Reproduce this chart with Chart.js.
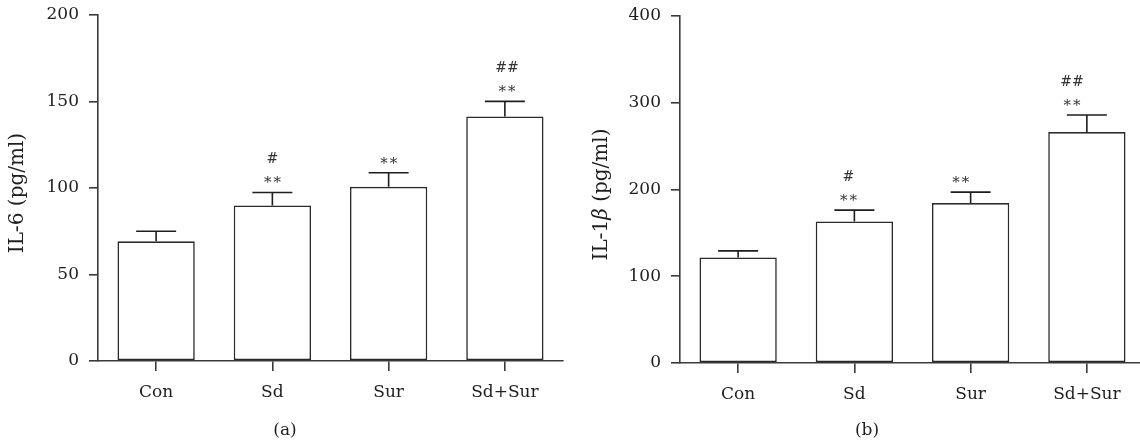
<!DOCTYPE html>
<html>
<head>
<meta charset="utf-8">
<script src="https://cdn.jsdelivr.net/npm/chart.js@4.4.1/dist/chart.umd.min.js"></script>
<style>
  html, body { margin: 0; padding: 0; background: #fff; width: 1140px; height: 444px; overflow: hidden; position: relative; }
  canvas { position: absolute; top: 0; }
  #c1 { left: 0; }
  #c2 { left: 570px; }
</style>
</head>
<body>
<canvas id="c1" width="570" height="444"></canvas>
<canvas id="c2" width="580" height="444"></canvas>
<script>
// ---- data ----
const categories = ['Con', 'Sd', 'Sur', 'Sd+Sur'];
const il6Mean = [69.2, 89.9, 100.7, 141.4];
const il6Upper = [75.0, 97.4, 108.8, 150.1];
const il1bMean = [121.6, 163.2, 184.3, 266.2];
const il1bUpper = [129.2, 176.2, 197.0, 285.8];
const starMarks = ['', '**', '**', '**'];
const hashMarks = ['', '#', '', '##'];
const il6Ticks = [0, 50, 100, 150, 200];
const il1bTicks = [0, 100, 200, 300, 400];

const FONT = '"DejaVu Serif", "Liberation Serif", serif';
const LINE = '#3a3a3a';
const TEXT = '#1e1e1e';

const decor = {
  id: 'decor',
  afterDatasetsDraw(chart, args, o) {
    const ctx = chart.ctx;
    const ys = chart.scales.y;
    const meta = chart.getDatasetMeta(0);
    const ca = chart.chartArea;
    ctx.save();
    // error bars
    o.upper.forEach((u, i) => {
      const bar = meta.data[i];
      const cx = bar.x;
      const yTop = ys.getPixelForValue(u);
      const yBar = ys.getPixelForValue(o.mean[i]);
      ctx.strokeStyle = '#1e1e1e';
      ctx.lineWidth = 1.6;
      ctx.beginPath();
      ctx.moveTo(cx, yBar);
      ctx.lineTo(cx, yTop);
      ctx.moveTo(cx - 20, yTop);
      ctx.lineTo(cx + 20, yTop);
      ctx.stroke();
      const ax = cx + (o.shift ? o.shift[i] : 0);
      ctx.fillStyle = '#333';
      ctx.textAlign = 'center';
      ctx.textBaseline = 'alphabetic';
      if (o.stars[i]) {
        ctx.font = '15px ' + FONT;
        ctx.letterSpacing = '2px';
        ctx.fillText(o.stars[i], ax + 1, yTop - 5);
      }
      if (o.hashes[i]) {
        ctx.font = '14px ' + FONT;
        ctx.letterSpacing = '0px';
        ctx.fillText(o.hashes[i], ax, yTop - 29);
      }
    });
    ctx.letterSpacing = '0px';
    // y title
    ctx.fillStyle = TEXT;
    ctx.translate(o.titleX, (ca.top + ca.bottom) / 2 + 5);
    ctx.rotate(-Math.PI / 2);
    ctx.textBaseline = 'middle';
    ctx.textAlign = 'left';
    let total = 0;
    const parts = o.title.map(p => {
      ctx.font = (p.italic ? 'italic ' : '') + '20px ' + FONT;
      const w = ctx.measureText(p.t).width;
      total += w;
      return { ...p, w };
    });
    let x = -total / 2;
    parts.forEach(p => {
      ctx.font = (p.italic ? 'italic ' : '') + '20px ' + FONT;
      ctx.fillText(p.t, x, 0);
      x += p.w;
    });
    ctx.setTransform(1, 0, 0, 1, 0, 0);
    // panel label
    ctx.font = '17px ' + FONT;
    ctx.textAlign = 'center';
    ctx.textBaseline = 'middle';
    ctx.fillText(o.panel, chart.width / 2 + o.panelShift, 431);
    ctx.restore();
  }
};

function makeChart(id, mean, upper, ticks, yWidth, pad, title, titleX, panel, panelShift, shift) {
  return new Chart(document.getElementById(id), {
    type: 'bar',
    data: {
      labels: categories,
      datasets: [{
        data: mean,
        backgroundColor: '#ffffff',
        borderColor: '#2a2a2a',
        borderWidth: 1.6,
        borderSkipped: false,
        barPercentage: 0.665,
        categoryPercentage: 1.0
      }]
    },
    plugins: [decor],
    options: {
      responsive: false,
      animation: false,
      devicePixelRatio: 1,
      layout: { padding: pad },
      plugins: {
        legend: { display: false },
        tooltip: { enabled: false },
        decor: { mean, upper, stars: starMarks, hashes: hashMarks, title, titleX, panel, panelShift, shift }
      },
      scales: {
        x: {
          offset: true,
          grid: { offset: false, drawOnChartArea: false, drawTicks: true, tickLength: 10, color: LINE, lineWidth: 1.6 },
          border: { display: true, color: LINE, width: 1.6 },
          ticks: { color: TEXT, font: { family: FONT, size: 17 }, padding: 11 },
          afterFit: s => { s.height = 40; s.paddingLeft = 0; s.paddingRight = 0; }
        },
        y: {
          min: ticks[0],
          max: ticks[ticks.length - 1],
          afterBuildTicks: s => { s.ticks = ticks.map(v => ({ value: v })); },
          grid: { drawOnChartArea: false, drawTicks: true, tickLength: 9, color: LINE, lineWidth: 1.6 },
          border: { display: true, color: LINE, width: 1.6 },
          ticks: { color: TEXT, font: { family: FONT, size: 17 }, padding: 10 },
          afterFit: s => { s.width = yWidth; s.paddingTop = 0; s.paddingBottom = 0; }
        }
      }
    }
  });
}

makeChart('c1', il6Mean, il6Upper, il6Ticks, 98,
  { top: 15, left: 0, right: 7, bottom: 43 },
  [{ t: 'IL-6 (pg/ml)' }], 18, '(a)', 0, [0, 0, 0, 2]);

makeChart('c2', il1bMean, il1bUpper, il1bTicks, 110,
  { top: 16, left: 0, right: 5, bottom: 41 },
  [{ t: 'IL-1' }, { t: 'β', italic: true }, { t: ' (pg/ml)' }], 32, '(b)', 7, [0, -6, -10, -15]);
</script>
</body>
</html>
